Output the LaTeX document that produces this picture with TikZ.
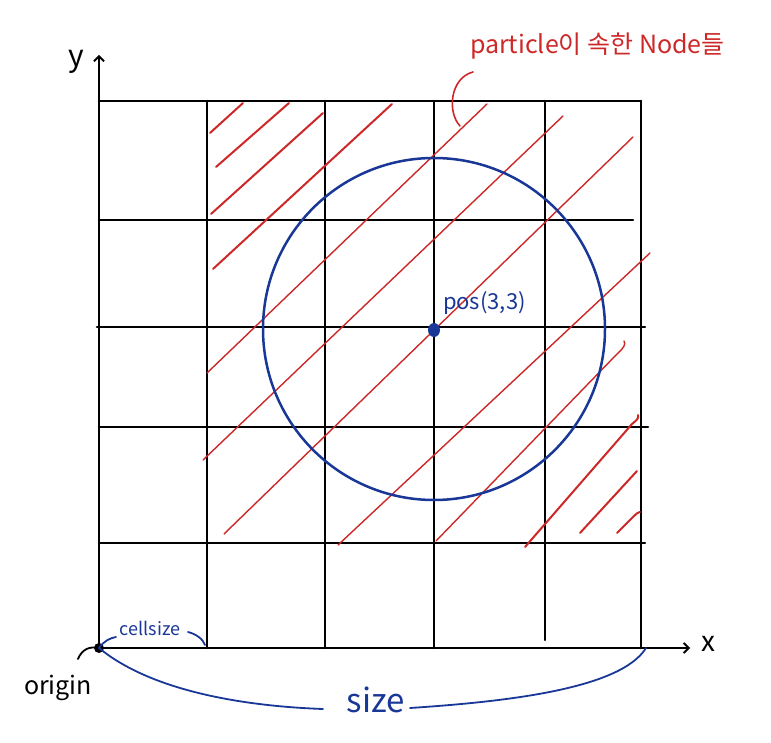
\documentclass[tikz,border=0pt]{standalone}
\usepackage{fontspec}
\setmainfont{Noto Sans CJK KR}
\usetikzlibrary{arrows.meta}
\definecolor{hred}{RGB}{205,40,40}
\definecolor{hblue}{RGB}{25,55,150}
\begin{document}
\begin{tikzpicture}[x=1pt,y=-1pt,
  gridline/.style={black,line width=2.6pt,line cap=round},
  hatch/.style={hred,line width=1.4pt,line cap=round},
  hatchb/.style={hred,line width=2pt,line cap=round},
  bluecurve/.style={hblue,line width=1.8pt,line cap=round},
  axisarrow/.style={black,line width=2.4pt,-{Straight Barb[length=5pt,width=10pt,line width=1.8pt]}},
  lbl/.style={inner sep=0pt,outer sep=0pt}]
\useasboundingbox (0,0) rectangle (771,743);
% grid
\draw[gridline] (207,101) -- (207,648);
\draw[gridline] (325,101) -- (325,648);
\draw[gridline] (434,101) -- (434,648);
\draw[gridline] (545,101) -- (545,640);
\draw[gridline] (641,101) -- (641,648);
\draw[gridline] (99,101) -- (641,101);
\draw[gridline] (99,220) -- (633,220);
\draw[gridline] (97,327) -- (645,327);
\draw[gridline] (99,427) -- (648,427);
\draw[gridline] (99,543) -- (645,543);
% axes
\coordinate (O) at (99,648);
\coordinate (yend) at (99,55);
\coordinate (xend) at (690,648);
\draw[axisarrow] (O) -- (yend);
\draw[axisarrow] (O) -- (xend);
\node[lbl,font=\fontsize{30}{30}\selectfont] (ylab) at (76,62) {y};
\node[lbl,font=\fontsize{28}{28}\selectfont] (xlab) at (708,644) {x};
% hatching
\draw[hatchb] (210,133) -- (243,103);
\draw[hatchb] (216,167) -- (289,103);
\draw[hatchb] (211,214) -- (323,113);
\draw[hatchb] (213,269) -- (392,104);
\draw[hatch] (207,373) -- (487,104);
\draw[hatch] (203,460) -- (563,116);
\draw[hatch] (224,534) -- (633,137);
\draw[hatch] (338,545) -- (650,253);
\draw[hatch] (436,541) -- (617,354) .. controls (624,348) and (626,344) .. (624,341);
\draw[hatchb] (525,547) -- (632,424) .. controls (637,420) and (639,418) .. (638,415);
\draw[hatchb] (580,533) -- (637,471);
\draw[hatchb] (617,533) -- (634,516) .. controls (637,513) and (639,512) .. (640,512);
% circle and position
\draw[hblue,line width=2.5pt] (434,329) circle (171);
\fill[hblue] (434,330) ellipse (6 and 7);
\node[lbl,hblue,font=\fontsize{22}{22}\selectfont,anchor=west] (pos) at (443,303) {pos(3,3)};
% top label
\node[lbl,hred,font=\fontsize{25}{25}\selectfont,anchor=west] (plabel) at (470,46) {particle이 속한 Node들};
\coordinate (pa) at (473,72);
\coordinate (pb) at (460,126);
\draw[hred,line width=1.6pt,line cap=round] (pa) .. controls (450,78) and (447,112) .. (pb);
% origin
\fill[black] (O) circle (5);
\node[lbl,font=\fontsize{25}{25}\selectfont] (orig) at (58,688) {origin};
\coordinate (oc) at (78,659);
\draw[black,line width=1.8pt,line cap=round] (oc) .. controls (82,649) and (90,646) .. (O);
% cellsize
\node[lbl,hblue,font=\fontsize{18}{18}\selectfont] (cell) at (150,628) {cellsize};
\coordinate (cl) at (116,637);
\coordinate (cr) at (188,632);
\coordinate (c207) at (205,645);
\draw[bluecurve] (O) .. controls (104,641) and (110,638) .. (cl);
\draw[bluecurve] (cr) .. controls (196,634) and (203,639) .. (c207);
% size
\node[lbl,hblue,font=\fontsize{33}{33}\selectfont] (sz) at (376,700) {size};
\coordinate (sl) at (323,709);
\coordinate (sr) at (410,708);
\coordinate (se) at (646,648);
\draw[bluecurve] (O) .. controls (150,690) and (240,706) .. (sl);
\draw[bluecurve] (sr) .. controls (500,702) and (620,690) .. (se);
\end{tikzpicture}
\end{document}
